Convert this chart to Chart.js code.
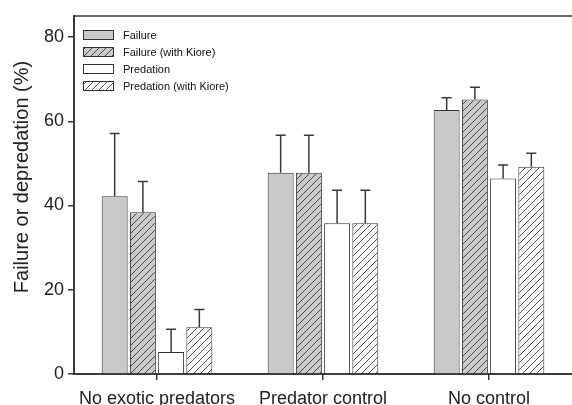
<!DOCTYPE html>
<html>
<head>
<meta charset="utf-8">
<script src="https://cdn.jsdelivr.net/npm/chart.js@4/dist/chart.umd.min.js"></script>
<style>
  html, body { margin: 0; padding: 0; background: #fff; }
  #wrap { width: 572px; height: 405px; }
</style>
</head>
<body>
<div id="wrap"><canvas id="grafico" width="572" height="405"></canvas></div>
<script>
const categorias = ["No exotic predators", "Predator control", "No control"];
const rotulos = ["Failure", "Failure (with Kiore)", "Predation", "Predation (with Kiore)"];
const tituloY = "Failure or depredation (%)";

const failure = [42.2, 47.8, 62.7];
const failureKiore = [38.4, 47.8, 65.2];
const predation = [5.2, 35.8, 46.4];
const predationKiore = [11.1, 35.8, 49.2];

const failureErr = [14.9, 8.9, 2.9];
const failureKioreErr = [7.3, 8.9, 2.9];
const predationErr = [5.4, 7.8, 3.2];
const predationKioreErr = [4.2, 7.8, 3.2];

const yTicks = [0, 20, 40, 60, 80];

const corEixo = "#3a3a3a";
const fonte = "'Liberation Sans', Arial, sans-serif";

function hachura(fundo) {
  const t = 7;
  const c = document.createElement("canvas");
  c.width = t; c.height = t;
  const g = c.getContext("2d");
  g.fillStyle = fundo;
  g.fillRect(0, 0, t, t);
  g.strokeStyle = "#3c3c3c";
  g.lineWidth = 0.9;
  g.beginPath();
  g.moveTo(0, t); g.lineTo(t, 0);
  g.moveTo(-1, 1); g.lineTo(1, -1);
  g.moveTo(t - 1, t + 1); g.lineTo(t + 1, t - 1);
  g.stroke();
  return g.createPattern(c, "repeat");
}

const ctx = document.getElementById("grafico").getContext("2d");

const estilos = [
  { fundo: "#c8c9cb", padrao: false },
  { fundo: "#c8c9cb", padrao: true },
  { fundo: "#ffffff", padrao: false },
  { fundo: "#ffffff", padrao: true }
];
const valores = [failure, failureKiore, predation, predationKiore];
const erros = [failureErr, failureKioreErr, predationErr, predationKioreErr];

const datasets = valores.map((v, i) => ({
  label: rotulos[i],
  data: v,
  erro: erros[i],
  backgroundColor: estilos[i].padrao ? hachura(estilos[i].fundo) : estilos[i].fundo,
  borderColor: "#333",
  borderWidth: 1,
  categoryPercentage: 0.68,
  barPercentage: 0.92
}));

const pluginErros = {
  id: "erros",
  afterDatasetsDraw(chart) {
    const c = chart.ctx;
    const y = chart.scales.y;
    c.save();
    c.strokeStyle = "#3a3a3a";
    c.lineWidth = 1.5;
    chart.data.datasets.forEach((ds, i) => {
      const meta = chart.getDatasetMeta(i);
      meta.data.forEach((bar, j) => {
        const topo = y.getPixelForValue(ds.data[j] + ds.erro[j]);
        c.beginPath();
        c.moveTo(bar.x, bar.y);
        c.lineTo(bar.x, topo);
        c.moveTo(bar.x - 5, topo);
        c.lineTo(bar.x + 5, topo);
        c.stroke();
      });
    });
    c.restore();
  }
};

const pluginMoldura = {
  id: "moldura",
  afterDraw(chart) {
    const c = chart.ctx;
    const a = chart.chartArea;
    c.save();
    c.strokeStyle = corEixo;
    c.lineWidth = 1.5;
    c.beginPath();
    c.moveTo(a.left, a.top);
    c.lineTo(a.right, a.top);
    c.stroke();

    // titulo do eixo y (um pouco acima do centro, como no original)
    c.save();
    c.translate(22, 177);
    c.rotate(-Math.PI / 2);
    c.font = "20px " + fonte;
    c.fillStyle = "#222";
    c.textAlign = "center";
    c.textBaseline = "middle";
    c.fillText(tituloY, 0, 0);
    c.restore();

    // legenda dentro da area
    const x0 = a.left + 9;
    c.font = "11px " + fonte;
    c.textBaseline = "middle";
    chart.data.datasets.forEach((ds, i) => {
      const yc = 35 + i * 17;
      c.fillStyle = ds.backgroundColor;
      c.fillRect(x0, yc - 4.5, 30, 9);
      c.strokeStyle = "#333";
      c.lineWidth = 1;
      c.strokeRect(x0 + 0.5, yc - 4.5, 30, 9);
      c.fillStyle = "#111";
      c.fillText(ds.label, x0 + 40, yc + 0.5);
    });
    c.restore();
  }
};

new Chart(ctx, {
  type: "bar",
  data: { labels: categorias, datasets },
  options: {
    responsive: false,
    animation: false,
    layout: { padding: { top: 16, right: 0, left: 0, bottom: 0 } },
    plugins: { legend: { display: false }, tooltip: { enabled: false } },
    scales: {
      x: {
        grid: { display: true, drawOnChartArea: false, drawTicks: true, tickLength: 6, offset: false, color: corEixo, lineWidth: 1.5 },
        border: { display: true, color: corEixo, width: 2 },
        ticks: { font: { size: 18, family: fonte }, color: "#222", padding: 8, maxRotation: 0 },
        afterFit(s) { s.height = 31; }
      },
      y: {
        min: 0,
        max: 85,
        afterBuildTicks(s) { s.ticks = yTicks.map(v => ({ value: v })); },
        grid: { display: true, drawOnChartArea: false, drawTicks: true, tickLength: 6, color: corEixo, lineWidth: 1.5 },
        border: { display: true, color: corEixo, width: 2 },
        ticks: { font: { size: 18, family: fonte }, color: "#222", padding: 4 },
        afterFit(s) { s.width = 74; }
      }
    }
  },
  plugins: [pluginErros, pluginMoldura]
});
</script>
</body>
</html>
